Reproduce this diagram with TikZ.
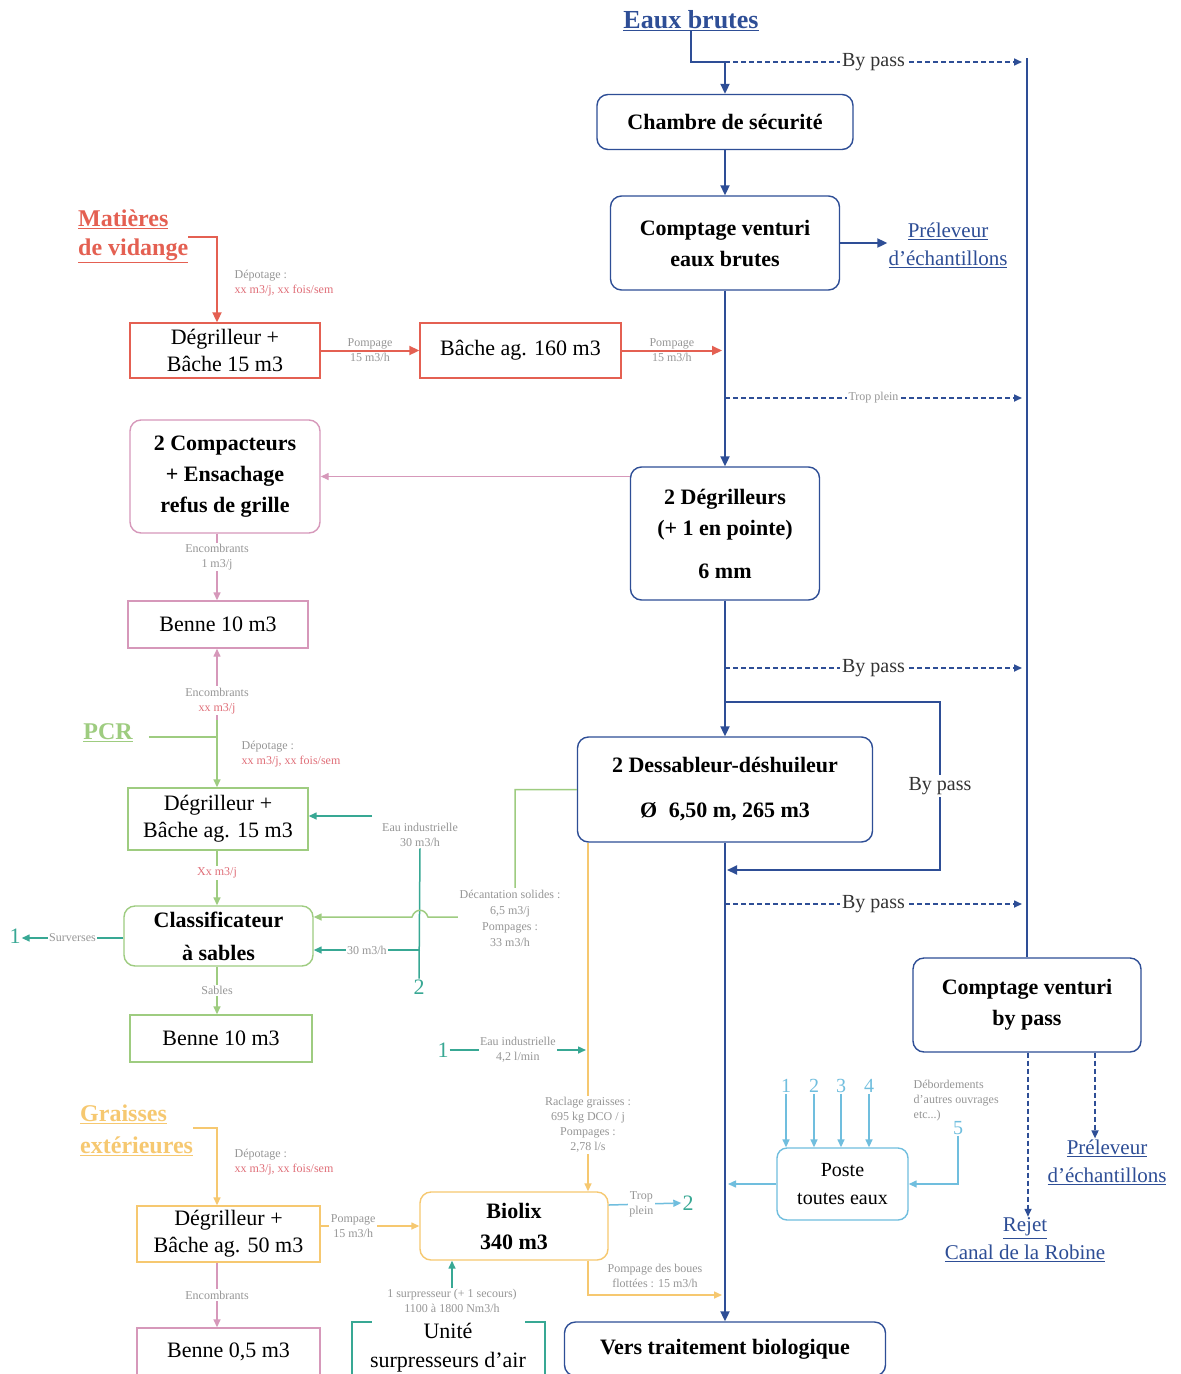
\documentclass[tikz,border=0pt]{standalone}
\usepackage{fontspec}
\setmainfont{Liberation Serif}
\usetikzlibrary{arrows.meta}
\definecolor{cblue}{RGB}{46,78,150}
\definecolor{cred}{RGB}{228,96,82}
\definecolor{cpink}{RGB}{214,152,186}
\definecolor{cgreen}{RGB}{158,204,128}
\definecolor{cteal}{RGB}{56,168,148}
\definecolor{cyel}{RGB}{246,200,112}
\definecolor{clblue}{RGB}{112,190,222}
\definecolor{cgray}{RGB}{150,150,150}
\definecolor{cnote}{RGB}{224,110,120}
\begin{document}
\begin{tikzpicture}[x=1pt,y=-1pt,
  box/.style={rectangle, inner sep=0pt, align=center, line width=1.4pt,
    font=\fontsize{22}{27}\selectfont},
  bbox/.style={box, rounded corners=11pt, font=\fontsize{22}{31}\selectfont\bfseries},
  head/.style={inner sep=0pt, align=left, font=\fontsize{24}{30}\selectfont\bfseries},
  link/.style={inner sep=1pt, align=center, text=cblue, font=\fontsize{21}{28}\selectfont},
  note/.style={inner sep=1.5pt, align=center, text=cgray, font=\fontsize{12}{15}\selectfont},
  wnote/.style={note, fill=white},
  bypass/.style={fill=white, inner sep=2pt, text=black!80, font=\fontsize{20}{22}\selectfont},
  num/.style={inner sep=1pt, font=\fontsize{22}{22}\selectfont},
  tipL/.style={-{Triangle[length=10pt,width=9pt]}},
  tipS/.style={-{Triangle[length=8pt,width=7pt]}},
  lb/.style={cblue, line width=2pt},
  ab/.style={lb, tipL},
  db/.style={cblue, line width=1.6pt, dash pattern=on 5pt off 3pt, tipS},
  ar/.style={cred, line width=2pt, tipL},
  ap/.style={cpink, line width=1.4pt, tipS},
  lg/.style={cgreen, line width=1.5pt},
  ag/.style={lg, tipS},
  lt/.style={cteal, line width=1.5pt},
  ateal/.style={lt, tipS},
  ay/.style={cyel, line width=1.5pt, tipS},
  alb/.style={clblue, line width=1.5pt, tipS}]
\useasboundingbox (0,0) rectangle (1181,1374);
\fill[white] (0,0) rectangle (1181,1374);

% ---------- reference abscissae
\coordinate (xmain) at (725,0);
\coordinate (xrail) at (1022,0);
\coordinate (xp) at (217,0);
\coordinate (xy) at (588,0);
\coordinate (xy2) at (586,0);
\coordinate (xm2) at (722,0);
\coordinate (xm3) at (728,0);
\coordinate (xrej) at (1028,0);
\coordinate (xpre) at (1095,0);

% ---------- main raw water line
\node[head, text=cblue, font=\fontsize{26}{30}\selectfont\bfseries] (eaux) at (691,21) {\underline{Eaux brutes}};
\node[bbox, draw=cblue, minimum width=256, minimum height=55] (chambre) at (725,122) {Chambre de sécurité};
\node[bbox, draw=cblue, minimum width=229, minimum height=94] (venturi) at (725,243) {Comptage venturi\\eaux brutes};
\node[link] (prel1) at (948,245) {\underline{Préleveur}\\\underline{d'échantillons}};
\node[bbox, draw=cblue, minimum width=189, minimum height=133] (degr2) at (725,533.5) {2 Dégrilleurs\\(+ 1 en pointe)\\[12pt]6 mm};
\node[bbox, draw=cblue, minimum width=295, minimum height=105, font=\fontsize{22}{45}\selectfont\bfseries] (dess) at (725,789.5) {2 Dessableur-déshuileur\\Ø\; 6,50 m, 265 m3};
\node[bbox, draw=cblue, minimum width=321, minimum height=54] (vers) at (725,1349) {Vers traitement biologique};
\node[bbox, draw=cblue, minimum width=228, minimum height=94] (bpv) at (1027,1005) {Comptage venturi\\by pass};
\node[link] (rejet) at (1025,1240) {\underline{Rejet}\\\underline{Canal de la Robine}};
\node[link] (prel2) at (1107,1162) {\underline{Préleveur}\\\underline{d'échantillons}};

\coordinate (jtop) at (725,62);
\coordinate (railtop) at (1027,58);
\draw[lb] (eaux.south) |- (jtop);
\draw[ab] (jtop) -- (chambre.north);
\draw[db] (jtop) -- node[bypass]{By pass} (jtop -| xrail);
\draw[lb] (railtop) -- (bpv.north);
\draw[ab] (chambre.south) -- (venturi.north);
\draw[ab] (venturi.east) -- (prel1.west |- venturi.east);
\draw[ab] (venturi.south) -- (degr2.north);
\coordinate (tp) at (725,398);
\draw[db] (tp) -- node[wnote]{Trop plein} (tp -| xrail);
\draw[ab] (degr2.south) -- (dess.north);
\coordinate (bp2) at (725,668);
\draw[db] (bp2) -- node[bypass]{By pass} (bp2 -| xrail);
\coordinate (lp1) at (725,702);
\coordinate (lp2) at (940,870);
\coordinate (lp3) at (727,870);
\draw[ab] (lp1) -| node[bypass, pos=0.75]{By pass} (lp2) -- (lp3);
\draw[ab] (dess.south) -- (vers.north);
\coordinate (bp3) at (725,904);
\draw[db] (bp3) -- node[bypass]{By pass} (bp3 -| xrail);
\draw[db] (bpv.south -| xrej) -- (rejet.north -| xrej);
\draw[db] (bpv.south -| xpre) -- (prel2.north -| xpre);

% ---------- septic sludge
\node[head, text=cred, anchor=north west, font=\fontsize{24}{29}\selectfont\bfseries] (matv) at (78,210) {\underline{Matières}\\\underline{de vidange}};
\node[box, draw=cred, minimum width=190, minimum height=55] (dg1) at (225,350.5) {Dégrilleur +\\Bâche 15 m3};
\node[box, draw=cred, minimum width=201, minimum height=55] (bache) at (520.5,350.5) {Bâche ag. 160 m3};
\coordinate (mv) at (217,237);
\draw[ar] (matv.east |- mv) -| (dg1.north -| mv);
\node[note, anchor=west, align=left] at (233,283) {Dépotage :\\\textcolor{cnote}{xx m3/j, xx fois/sem}};
\draw[ar] (dg1.east) -- node[note]{Pompage\\15 m3/h} (bache.west);
\draw[ar] (bache.east) -- node[note]{Pompage\\15 m3/h} (bache.east -| xm2);

% ---------- screenings
\node[bbox, draw=cpink, minimum width=190, minimum height=113] (comp) at (225,476.5) {2 Compacteurs\\+ Ensachage\\refus de grille};
\node[box, draw=cpink, minimum width=180, minimum height=47] (benne1) at (218,624.5) {Benne 10 m3};
\draw[ap] (degr2.west |- comp.east) -- (comp.east);
\draw[ap] (comp.south -| xp) -- node[wnote, pos=0.35]{Encombrants\\1 m3/j} (benne1.north -| xp);
\coordinate (enc2) at (217,720);
\draw[ap] (enc2) -- node[wnote, pos=0.27]{Encombrants\\\textcolor{cnote}{xx m3/j}} (benne1.south -| enc2);

% ---------- PCR and sand
\node[head, text=cgreen] (pcr) at (108,733) {\underline{PCR}};
\coordinate (pj) at (217,737);
\draw[lg] ([xshift=16pt]pcr.east |- pj) -- (pj);
\node[box, draw=cgreen, minimum width=180, minimum height=62] (dg2) at (218,819) {Dégrilleur +\\Bâche ag. 15 m3};
\draw[ag] (enc2) -- (dg2.north -| enc2);
\node[note, anchor=west, align=left] at (240,754) {Dépotage :\\\textcolor{cnote}{xx m3/j, xx fois/sem}};
\node[bbox, draw=cgreen, minimum width=189, minimum height=60, font=\fontsize{22}{33}\selectfont\bfseries] (classif) at (218.5,936) {Classificateur\\à sables};
\node[box, draw=cgreen, minimum width=182, minimum height=47] (benne2) at (221,1038.5) {Benne 10 m3};
\draw[ag] (dg2.south -| xp) -- node[wnote, text=cnote, pos=0.41]{Xx m3/j} (classif.north -| xp);
\draw[ag] (classif.south -| xp) -- node[wnote]{Sables} (benne2.north -| xp);

\node[note] (eau1) at (420,835) {Eau industrielle\\30 m3/h};
\node[num, text=cteal] (two1) at (419,987) {2};
\coordinate (et) at (372,816);
\coordinate (tj) at (420,950);
\draw[lt] (two1.north) -- (eau1.south);
\draw[ateal] (et) -- (dg2.east |- et);
\draw[ateal] (tj) -- node[wnote]{30 m3/h} (classif.east |- tj);

\coordinate (gd) at (515,917);
\draw[ag] (dess.west) -| (gd) -- (428,917) .. controls (425,908) and (415,908) .. (412,917) -- (classif.east |- gd);
\node[wnote, font=\fontsize{12}{16}\selectfont] at (510,918) {Décantation solides :\\6,5 m3/j\\Pompages :\\33 m3/h};

\node[num, text=cteal] (one1) at (15,936) {1};
\draw[ateal] (classif.west |- 0,938) -- node[wnote]{Surverses} (one1.east |- 0,938);

% ---------- greases
\node[num, text=cteal] (one2) at (443,1050) {1};
\draw[ateal] (one2.east) -- node[wnote]{Eau industrielle\\4,2 l/min} (one2.east -| xy2);

\node[head, text=cyel, anchor=north west, font=\fontsize{24}{32}\selectfont\bfseries] (grs) at (80,1105) {\underline{Graisses}\\\underline{extérieures}};
\node[box, draw=cyel, minimum width=183, minimum height=56] (dg3) at (228.5,1234) {Dégrilleur +\\Bâche ag. 50 m3};
\node[bbox, draw=cyel, minimum width=188, minimum height=68] (biolix) at (514,1226) {Biolix\\340 m3};
\node[box, draw=cpink, minimum width=183, minimum height=48] (benne3) at (228.5,1352) {Benne 0,5 m3};
\coordinate (gj) at (217,1128);
\draw[ay] (grs.east |- gj) -| (dg3.north -| gj);
\node[note, anchor=west, align=left] at (233,1162) {Dépotage :\\\textcolor{cnote}{xx m3/j, xx fois/sem}};
\coordinate (yb) at (0,1226);
\draw[ay] (dg3.east |- yb) -- node[wnote, pos=0.33]{Pompage\\15 m3/h} (biolix.west);
\draw[ay] (dess.south -| xy) -- node[wnote, pos=0.81]{Raclage graisses :\\695 kg DCO / j\\Pompages :\\2,78 l/s} (biolix.north -| xy);
\draw[ap] (dg3.south -| xp) -- node[wnote]{Encombrants} (benne3.north -| xp);

\node[num, text=cteal] (two2) at (688,1203) {2};
\coordinate (ytp) at (0,1205);
\draw[alb] (biolix.east |- ytp) -- node[wnote, pos=0.45]{Trop\\plein} (two2.west);
\coordinate (yboue) at (0,1295);
\draw[ay] (biolix.south -| xy) |- (xm2 |- yboue);
\node[note] at (655,1276) {Pompage des boues\\flottées : 15 m3/h};

\node[note] (air) at (452,1301) {1 surpresseur (+ 1 secours)\\1100 à 1800 Nm3/h};
\draw[ateal] (air.north) -- (biolix.south -| air.north);
\node[box, font=\fontsize{22}{29}\selectfont] (unite) at (448,1348) {Unité\\surpresseurs d'air};
\draw[lt] (352,1376) -- (352,1322) -- (372,1322) (525,1322) -- (545,1322) -- (545,1376);

% ---------- general pumping station
\node[box, rounded corners=10pt, draw=clblue, minimum width=131, minimum height=72, font=\fontsize{20}{28}\selectfont] (poste) at (842.5,1184) {Poste\\toutes eaux};
\foreach \n/\x in {1/786,2/814,3/841,4/869} {
  \node[num, text=clblue, font=\fontsize{20}{20}\selectfont] (n\n) at (\x,1086) {\n};
  \draw[alb] (n\n.south) -- (poste.north -| n\n.south);
}
\node[num, text=clblue, font=\fontsize{20}{20}\selectfont] (n5) at (958,1128) {5};
\draw[alb] (n5.south) |- (poste.east);
\node[note, anchor=west, align=left] at (912,1101) {Débordements\\d'autres ouvrages\\etc...)};
\draw[alb] (poste.west) -- (poste.west -| xm3);
\end{tikzpicture}
\end{document}
